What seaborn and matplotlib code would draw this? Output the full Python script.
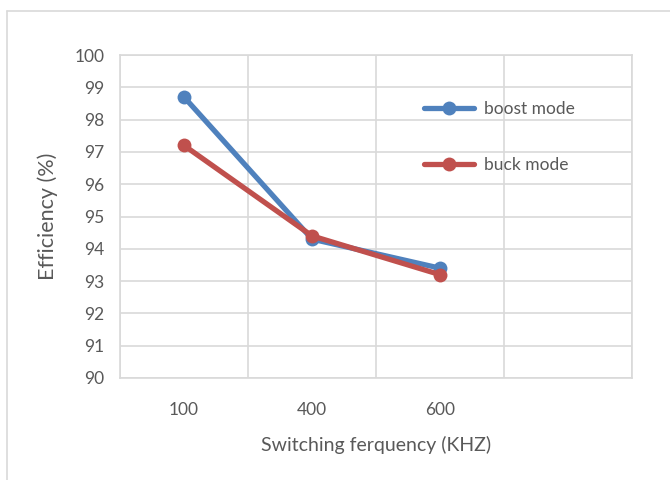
import matplotlib
matplotlib.use("Agg")
import matplotlib.pyplot as plt
from matplotlib.lines import Line2D
import seaborn as sns
import pandas as pd

categories = ["100", "400", "600"]
boost_mode = [98.7, 94.3, 93.4]
buck_mode = [97.2, 94.4, 93.2]
series_names = ["boost mode", "buck mode"]
colors = ["#4F81BD", "#C0504D"]

rows = []
for name, vals in zip(series_names, [boost_mode, buck_mode]):
    for i, (c, v) in enumerate(zip(categories, vals)):
        rows.append({"pos": i, "cat": c, "value": v, "series": name})
df = pd.DataFrame(rows)

sns.set_theme(style="white")
plt.rcParams['font.family'] = ['Lato', 'DejaVu Sans']
text_color = "#595959"
grid_color = "#D9D9D9"

fig = plt.figure(figsize=(6.7, 4.8), dpi=100)
W, H = 670, 480
ax = fig.add_axes([120 / W, (H - 378) / H, (632 - 120) / W, (378 - 55) / H])

sns.lineplot(data=df, x="pos", y="value", hue="series", palette=colors,
             hue_order=series_names, marker="o", markersize=10, linewidth=3.8,
             markeredgewidth=0, ax=ax, legend=False, sort=False)

ax.set_xlim(-0.5, 3.5)
ax.set_ylim(90, 100)
ax.set_yticks(range(90, 101))
ax.set_xticks(range(len(categories)))
ax.set_xticklabels(categories)
ax.set_xticks([-0.5, 0.5, 1.5, 2.5, 3.5], minor=True)
ax.grid(True, axis="y", which="major", color=grid_color, linewidth=1.2)
ax.grid(True, axis="x", which="minor", color=grid_color, linewidth=1.2)
ax.grid(False, axis="x", which="major")
ax.set_axisbelow(True)
for s in ax.spines.values():
    s.set_visible(True)
    s.set_color(grid_color)
    s.set_linewidth(1.2)
ax.tick_params(axis="both", which="both", length=0, colors=text_color, labelsize=12.5)
ax.tick_params(axis="x", pad=17)
ax.tick_params(axis="y", pad=11)
ax.set_xlabel("Switching ferquency (KHZ)", color=text_color, fontsize=14, labelpad=13)
ax.set_ylabel("Efficiency (%)", color=text_color, fontsize=15.5, labelpad=12)

handles = [Line2D([0], [0], color=c, linewidth=3.8, marker="o", markersize=10,
                  markeredgewidth=0) for c in colors]
leg = ax.legend(handles, series_names, loc="upper left", bbox_to_anchor=(0.563, 0.905),
                frameon=False, fontsize=12.5, labelspacing=2.3, handlelength=2.9,
                handletextpad=0.55, labelcolor=text_color)

# chart border (left and top visible)
fig.add_artist(Line2D([6.5 / W, 6.5 / W], [0, (H - 10.5) / H], color=grid_color,
                      linewidth=1.2, transform=fig.transFigure))
fig.add_artist(Line2D([6.5 / W, 1], [(H - 10.5) / H, (H - 10.5) / H], color=grid_color,
                      linewidth=1.2, transform=fig.transFigure))

fig.savefig("out.png", dpi=100)
